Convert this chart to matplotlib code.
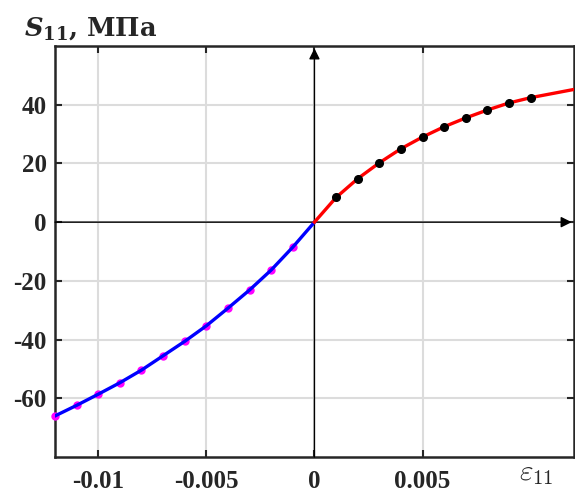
import matplotlib
matplotlib.use("Agg")
import matplotlib.pyplot as plt

# ── data ─────────────────────────────────────────────────────────────────────
eps_pos = [0.001, 0.002, 0.003, 0.004, 0.005, 0.006, 0.007, 0.008, 0.009, 0.010]
s_pos = [8.4, 14.8, 20.2, 25.0, 29.0, 32.5, 35.5, 38.2, 40.6, 42.4]
eps_neg = [-0.012, -0.011, -0.010, -0.009, -0.008, -0.007, -0.006,
           -0.005, -0.004, -0.003, -0.002, -0.001]
s_neg = [-66.0, -62.4, -58.6, -54.7, -50.4, -45.5, -40.6,
         -35.3, -29.3, -23.1, -16.3, -8.5]
# curve end points (origin and right edge)
curve_pos_x = [0.0] + eps_pos + [0.012]
curve_pos_y = [0.0] + s_pos + [45.2]
curve_neg_x = eps_neg + [0.0]
curve_neg_y = s_neg + [0.0]

xticks = [-0.01, -0.005, 0, 0.005]
xtick_labels = ["-0.01", "-0.005", "0", "0.005"]
yticks = [-60, -40, -20, 0, 20, 40]
ytick_labels = ["-60", "-40", "-20", "0", "20", "40"]

plt.rcParams["mathtext.fontset"] = "custom"
plt.rcParams["mathtext.it"] = "DejaVu Serif:italic:bold"
plt.rcParams["mathtext.rm"] = "DejaVu Serif:bold"
plt.rcParams["mathtext.bf"] = "DejaVu Serif:bold"

fig = plt.figure(figsize=(5.75, 4.92), dpi=100)
ax = fig.add_axes([0.0957, 0.0711, 0.9023, 0.8354])

ax.set_xlim(-0.012, 0.012)
ax.set_ylim(-80, 60)

ax.grid(True, color="#dcdcdc", linewidth=1.5)
ax.set_axisbelow(True)

ax.set_xticks(xticks)
ax.set_xticklabels(xtick_labels)
ax.set_yticks(yticks)
ax.set_yticklabels(ytick_labels)
for lab in ax.get_xticklabels() + ax.get_yticklabels():
    lab.set_fontfamily("Liberation Serif")
    lab.set_fontweight("bold")
    lab.set_fontsize(18)
    lab.set_color("#262626")
ax.tick_params(direction="in", length=5, width=1.5, color="#262626",
               top=True, right=True)
ax.tick_params(axis="x", pad=9)
ax.tick_params(axis="y", pad=6)

for spine in ax.spines.values():
    spine.set_color("#262626")
    spine.set_linewidth(1.8)

# coordinate axes with arrows
ax.annotate("", xy=(0, 59.2), xytext=(0, -80),
            arrowprops=dict(arrowstyle="-|>", color="black", lw=1.0,
                            mutation_scale=16, shrinkA=0, shrinkB=0))
ax.annotate("", xy=(0.0119, 0), xytext=(-0.012, 0),
            arrowprops=dict(arrowstyle="-|>", color="black", lw=1.0,
                            mutation_scale=16, shrinkA=0, shrinkB=0))

# negative branch: magenta dots under blue curve
ax.plot(eps_neg, s_neg, "o", color="#ff00ff", markersize=5, zorder=3,
        clip_on=False)
ax.plot(curve_neg_x, curve_neg_y, color="#0000ff", linewidth=2.4, zorder=4)

# positive branch: red curve with black dots
ax.plot(curve_pos_x, curve_pos_y, color="#ff0000", linewidth=2.4, zorder=4)
ax.plot(eps_pos, s_pos, "o", color="black", markersize=5.5, zorder=5)

fig.text(0.042, 0.942, r"$S_{11}$, МПа", fontsize=18.5, fontfamily="DejaVu Serif",
         fontweight="bold", color="#262626", va="center", ha="left")
fig.text(0.902, 0.025, r"$\varepsilon_{11}$", fontsize=21, math_fontfamily="cm",
         color="#262626", va="baseline", ha="left")

fig.savefig("out.png", dpi=100)
